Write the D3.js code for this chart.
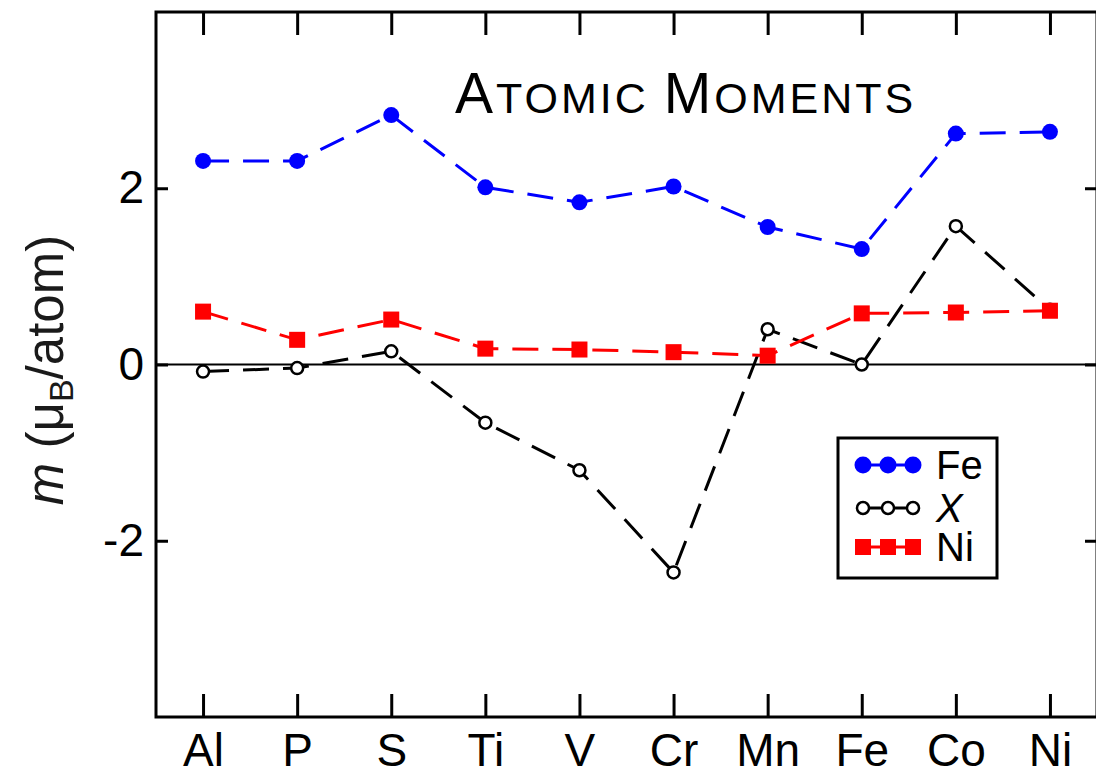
<!DOCTYPE html>
<html>
<head>
<meta charset="utf-8">
<script src="https://cdn.jsdelivr.net/npm/d3@7"></script>
<style>
  body { margin: 0; background: #fff; }
  svg { display: block; font-family: "Liberation Sans", Arial, sans-serif; }
</style>
</head>
<body>
<svg width="1096" height="775"></svg>
<script>
const elements = ["Al", "P", "S", "Ti", "V", "Cr", "Mn", "Fe", "Co", "Ni"];
const feMoments = [2.31, 2.31, 2.83, 2.01, 1.84, 2.02, 1.56, 1.31, 2.62, 2.64];
const xMoments = [-0.08, -0.04, 0.15, -0.66, -1.2, -2.36, 0.4, 0.0, 1.57, 0.62];
const niMoments = [0.6, 0.28, 0.51, 0.18, 0.17, 0.14, 0.1, 0.58, 0.59, 0.61];
const yTicks = [-2, 0, 2];

const svg = d3.select("svg");
const plotLeft = 156, plotRight = 1097, plotTop = 12, plotBottom = 717;

const x = d3.scalePoint().domain(elements).range([plotLeft, plotRight]).padding(0.5);
const y = d3.scaleLinear().domain([-4, 4]).range([plotBottom, plotTop]);

// axes, ticks pointing inward
const gx = svg.append("g").attr("transform", `translate(0,${plotBottom})`)
  .call(d3.axisBottom(x).tickSizeInner(-23).tickSizeOuter(0).tickPadding(16));
const gxTop = svg.append("g").attr("transform", `translate(0,${plotTop})`)
  .call(d3.axisTop(x).tickSizeInner(-23).tickSizeOuter(0).tickFormat(""));
const gy = svg.append("g").attr("transform", `translate(${plotLeft},0)`)
  .call(d3.axisLeft(y).tickValues(yTicks).tickSizeInner(-12).tickSizeOuter(0).tickPadding(12)
    .tickFormat((d) => String(d)));
const gyRight = svg.append("g").attr("transform", `translate(${plotRight},0)`)
  .call(d3.axisRight(y).tickValues(yTicks).tickSizeInner(-12).tickSizeOuter(0).tickFormat(""));

[gx, gxTop, gy, gyRight].forEach((g) => {
  g.select(".domain").remove();
  g.selectAll(".tick line").attr("stroke", "#000").attr("stroke-width", 3);
  g.selectAll(".tick text").attr("fill", "#000").attr("font-size", 46).attr("font-family", "Liberation Sans, Arial, sans-serif");
});

svg.append("rect")
  .attr("x", plotLeft).attr("y", plotTop)
  .attr("width", plotRight - plotLeft).attr("height", plotBottom - plotTop)
  .attr("fill", "none").attr("stroke", "#000").attr("stroke-width", 3);

// zero line
svg.append("line")
  .attr("x1", plotLeft).attr("x2", plotRight)
  .attr("y1", y(0)).attr("y2", y(0))
  .attr("stroke", "#000").attr("stroke-width", 2);

// title in small caps
const title = svg.append("text").attr("x", 455).attr("y", 113).attr("fill", "#000").attr("letter-spacing", 3);
title.append("tspan").attr("font-size", 57).text("A");
title.append("tspan").attr("font-size", 43).text("TOMIC ");
title.append("tspan").attr("font-size", 57).text("M");
title.append("tspan").attr("font-size", 43).text("OMENTS");

// y label
const ylab = svg.append("text")
  .attr("transform", "translate(63,370) rotate(-90)")
  .attr("text-anchor", "middle").attr("font-size", 51).attr("fill", "#1a1a1a");
ylab.append("tspan").attr("font-style", "italic").text("m");
ylab.append("tspan").text(" (μ");
ylab.append("tspan").attr("font-size", 34).attr("dy", 10).text("B");
ylab.append("tspan").attr("dy", -10).text("/atom)");

const line = d3.line().x((d, i) => x(elements[i])).y((d) => y(d));

const series = [
  { name: "Fe", values: feMoments, color: "#0000ff", marker: "dot" },
  { name: "X", values: xMoments, color: "#000", marker: "ring" },
  { name: "Ni", values: niMoments, color: "#ff0000", marker: "square" },
];

function drawMarker(g, kind, color, cx, cy, small) {
  if (kind === "dot") {
    g.append("circle").attr("cx", cx).attr("cy", cy).attr("r", small ? 8.5 : 8).attr("fill", color);
  } else if (kind === "ring") {
    g.append("circle").attr("cx", cx).attr("cy", cy).attr("r", 6)
      .attr("fill", "#fff").attr("stroke", color).attr("stroke-width", 2.5);
  } else {
    const s = 16;
    g.append("rect").attr("x", cx - s / 2).attr("y", cy - s / 2).attr("width", s).attr("height", s).attr("fill", color);
  }
}

// draw lines: X first, then Ni, then Fe (Ni squares sit above X line)
const order = [series[1], series[2], series[0]];
order.forEach((s) => {
  svg.append("path").datum(s.values)
    .attr("d", line).attr("fill", "none")
    .attr("stroke", s.color).attr("stroke-width", 3)
    .attr("stroke-dasharray", "26,14");
  const g = svg.append("g");
  s.values.forEach((v, i) => drawMarker(g, s.marker, s.color, x(elements[i]), y(v), false));
});

// legend
const legend = svg.append("g");
legend.append("rect").attr("x", 838).attr("y", 438).attr("width", 159).attr("height", 140)
  .attr("fill", "#fff").attr("stroke", "#000").attr("stroke-width", 3);
const rowY = [465, 508, 547];
series.forEach((s, k) => {
  const ry = rowY[k];
  legend.append("line").attr("x1", 857).attr("x2", 919).attr("y1", ry).attr("y2", ry)
    .attr("stroke", s.color).attr("stroke-width", 3);
  [863, 888, 913].forEach((mx) => drawMarker(legend, s.marker, s.color, mx, ry, true));
  legend.append("text").attr("x", 936).attr("y", ry + 14)
    .attr("font-size", 40).attr("fill", "#000")
    .attr("font-style", s.name === "X" ? "italic" : "normal")
    .text(s.name);
});
</script>
</body>
</html>
